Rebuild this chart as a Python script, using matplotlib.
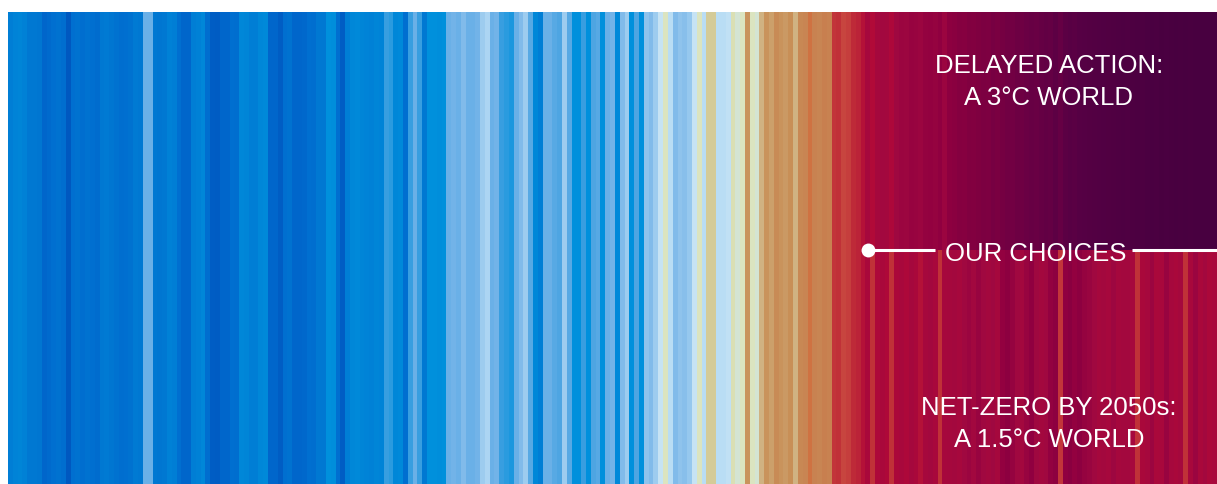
import numpy as np
import matplotlib
matplotlib.use("Agg")
from matplotlib import pyplot as plt
from matplotlib.colors import LinearSegmentedColormap, Normalize

# temperature anomaly per year (deg C), 1850 .. 2027 observed/near term
hist = [
    -0.17, -0.15, -0.14, -0.16, -0.22, -0.21, -0.23, -0.33, -0.31, -0.27,
    -0.26, -0.28, -0.45, -0.27, -0.25, -0.28, -0.26, -0.27, -0.29, -0.22,
    -0.20, -0.23, -0.26, -0.28, -0.27, -0.25, -0.20, -0.21, 0.06, 0.05,
    -0.22, -0.23, -0.21, -0.16, -0.18, -0.27, -0.33, -0.34, -0.17, -0.16,
    -0.12, -0.28, -0.40, -0.41, -0.33, -0.34, -0.27, -0.28, -0.12, -0.13,
    -0.17, -0.18, -0.12, -0.11, -0.33, -0.34, -0.40, -0.27, -0.26, -0.33,
    -0.33, -0.32, -0.27, -0.28, -0.22, -0.21, -0.07, -0.08, -0.27, -0.40,
    -0.17, -0.12, -0.11, -0.13, -0.15, -0.16, -0.14, -0.15, -0.01, -0.02,
    -0.12, -0.11, -0.27, -0.01, 0.06, -0.01, -0.22, -0.07, -0.06, -0.08,
    -0.07, 0.06, 0.07, 0.05, 0.09, 0.06, 0.05, 0.07, 0.15, 0.18,
    0.06, 0.07, -0.01, -0.02, -0.04, 0.06, 0.09, 0.15, 0.03, -0.12,
    -0.17, 0.06, 0.05, 0.03, 0.02, 0.15, 0.03, -0.07, -0.06, -0.01,
    -0.07, 0.01, 0.03, -0.07, 0.06, 0.07, -0.10, 0.09, 0.15, -0.07,
    0.01, -0.07, 0.12, 0.09, 0.15, 0.23, 0.27, 0.21, 0.10, 0.12,
    0.11, 0.13, 0.23, 0.27, 0.21, 0.32, 0.33, 0.21, 0.20, 0.22,
    0.28, 0.26, 0.27, 0.45, 0.27, 0.26, 0.38, 0.45, 0.42, 0.47,
    0.44, 0.43, 0.46, 0.38, 0.48, 0.50, 0.60, 0.52, 0.50, 0.53,
    0.51, 0.78, 0.80, 0.72, 0.74, 0.82, 0.85, 0.92,
]

# future: net-zero by 2050s (1.5C world)
net_zero = [
    1.05, 0.80, 1.00, 1.05, 0.98, 0.80, 1.02, 1.08, 1.00, 1.12,
    1.05, 0.92, 1.10, 1.15, 1.08, 0.80, 1.10, 1.12, 1.15, 1.10,
    1.20, 1.30, 1.18, 1.35, 1.20, 1.15, 1.22, 1.12, 1.45, 1.55,
    1.40, 1.20, 1.15, 1.35, 1.50, 1.22, 1.15, 1.20, 1.45, 1.55,
    0.78, 1.50, 1.60, 1.45, 1.55, 1.40, 1.32, 1.20, 1.12, 1.15,
    1.10, 1.25, 1.12, 1.15, 1.15, 1.10, 0.80, 1.05, 1.10, 1.30,
    1.05, 1.08, 1.35, 1.10, 1.05, 1.12, 0.80, 1.08, 1.30, 1.05,
    1.15, 1.02, 1.08,
]

# future: delayed action (3C world)
delayed = [
    1.10, 0.95, 1.12, 1.18, 1.15, 1.00, 1.22,
    1.30, 1.28, 1.38, 1.35, 1.30, 1.42, 1.45, 1.40, 1.50, 1.30, 1.55,
    1.62, 1.70, 1.68, 1.78, 1.75, 1.82, 1.88, 1.85, 1.95, 1.92,
    2.00, 2.08, 2.05, 2.15, 2.12, 2.20, 2.25, 2.22, 2.30, 2.35, 2.32,
    2.45, 2.30, 2.50, 2.55, 2.52, 2.60, 2.62, 2.65, 2.68, 2.70,
    2.72, 2.75, 2.78, 2.80, 2.82, 2.80, 2.85, 2.88, 2.85, 2.90,
    2.92, 2.90, 2.95, 2.93, 2.96, 2.98, 2.95, 3.00, 2.97, 3.00,
    2.98, 3.00, 3.00, 2.99,
]

label_top = ["DELAYED ACTION:", "A 3°C WORLD"]
label_mid = "OUR CHOICES"
label_bottom = ["NET-ZERO BY 2050s:", "A 1.5°C WORLD"]

# stripe colour scale
vmin, vmax = -0.45, 3.0
anchors = [
    (-0.45, "#0058c0"), (-0.33, "#0068cc"), (-0.27, "#0070d0"), (-0.22, "#0078d2"),
    (-0.17, "#0080d6"), (-0.12, "#0088d8"), (-0.07, "#0090dc"), (-0.01, "#40a0e0"),
    (0.06, "#70b2e8"), (0.12, "#90c4ec"), (0.18, "#b0d8f4"), (0.23, "#c8e4f4"),
    (0.27, "#dce4bc"), (0.32, "#d4cc98"), (0.38, "#d0b080"), (0.45, "#c89058"),
    (0.52, "#c88050"), (0.60, "#d07040"), (0.70, "#c84840"), (0.80, "#c03038"),
    (0.95, "#b00838"), (1.2, "#a00840"), (1.5, "#900040"), (1.8, "#800040"),
    (2.2, "#6a0044"), (2.6, "#560044"), (3.0, "#480040"),
]
cmap = LinearSegmentedColormap.from_list(
    "stripes", [((v - vmin) / (vmax - vmin), c) for v, c in anchors])
norm = Normalize(vmin=vmin, vmax=vmax)

n_hist = len(hist)
n_total = n_hist + len(net_zero)

fig = plt.figure(figsize=(12.17, 4.84), dpi=100)
ax = fig.add_axes([8 / 1217, 0, 1209 / 1217, 472 / 484])

grid = np.vstack([np.concatenate([hist, net_zero]),
                  np.concatenate([hist, delayed])])
ax.pcolormesh(np.arange(n_total + 1), [0, 0.496, 1], grid, cmap=cmap, norm=norm,
              shading="flat", antialiased=False)
ax.set_xlim(0, n_total)
ax.set_ylim(0, 1)
ax.axis("off")

# the fork
split = n_hist + 0.6
ax.plot([split, 192.4], [0.496, 0.496], color="white", lw=2.2, solid_capstyle="butt")
ax.plot([233.3, n_total], [0.496, 0.496], color="white", lw=2.2, solid_capstyle="butt")
ax.plot(split, 0.496, "o", color="white", ms=10, mec="none")

font = dict(color="white", fontsize=18.5, family="Liberation Sans", ha="center", va="baseline")
ax.text(213.4, 0.472, label_mid, **font)
ax.text(216.1, 0.871, label_top[0], **font)
ax.text(216.1, 0.803, label_top[1], **font)
ax.text(216.1, 0.146, label_bottom[0], **font)
ax.text(216.1, 0.078, label_bottom[1], **font)

fig.savefig("out.png", dpi=100, facecolor="white")
